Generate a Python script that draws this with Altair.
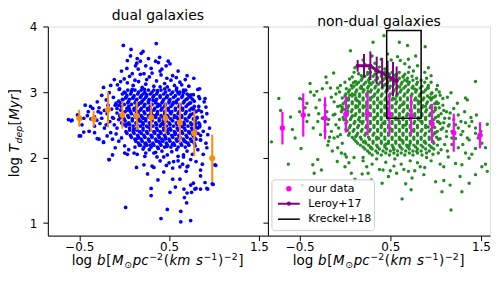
import altair as alt
import pandas as pd

# ---------------- data ----------------
dual_bin_x = [-0.50, -0.34, -0.18, -0.02, 0.14, 0.30, 0.46, 0.62, 0.78, 0.98]
dual_bin_y = [2.60, 2.59, 2.73, 2.65, 2.64, 2.61, 2.60, 2.53, 2.37, 1.99]
dual_bin_err = [0.13, 0.12, 0.27, 0.21, 0.22, 0.22, 0.24, 0.31, 0.35, 0.36]

nondual_bin_x = [-0.69, -0.46, -0.22, 0.01, 0.25, 0.49, 0.73, 0.96, 1.20, 1.49]
nondual_bin_y = [2.45, 2.65, 2.60, 2.66, 2.67, 2.66, 2.64, 2.52, 2.38, 2.34]
nondual_bin_err = [0.25, 0.33, 0.32, 0.28, 0.33, 0.32, 0.29, 0.30, 0.29, 0.20]

leroy_x = [0.14, 0.21, 0.28, 0.35, 0.41, 0.47, 0.53, 0.57]
leroy_y = [3.40, 3.40, 3.40, 3.33, 3.29, 3.24, 3.20, 3.17]
leroy_err = [0.09, 0.18, 0.22, 0.21, 0.23, 0.24, 0.26, 0.22]

kreckel_x = [0.46, 0.84]
kreckel_y = [2.60, 3.94]

dual_pts = [
    (-0.01, 3.71), (0.076, 3.65), (0.21, 3.62), (0.19, 3.59), (0.035, 3.48), (0.145, 3.51),
    (0.27, 3.51), (0.35, 3.47), (0.126, 3.40), (-0.03, 3.32), (0.09, 3.28), (0.156, 3.35),
    (0.22, 3.28), (0.31, 3.29), (-0.11, 3.19), (-0.23, 3.07), (-0.075, 3.11), (0.035, 3.14),
    (-0.166, 2.99), (-0.056, 3.04), (-0.434, 2.80), (-0.375, 2.78), (-0.28, 2.76), (-0.29, 2.70),
    (-0.41, 2.64), (-0.58, 2.57), (-0.37, 2.59), (-0.305, 2.57), (-0.19, 2.67), (-0.13, 2.61),
    (-0.33, 2.48), (-0.09, 2.83), (0.016, 2.91), (0.09, 3.04), (0.16, 3.16), (0.25, 3.19),
    (0.33, 3.09), (-0.59, 2.56), (-0.50, 2.33), (-0.39, 2.40), (-0.28, 2.28), (-0.17, 1.97),
    (-0.23, 2.24), (0.357, 3.74), (0.394, 3.53), (0.38, 3.45), (0.49, 3.47), (0.51, 3.43),
    (0.467, 3.40), (0.42, 3.35), (0.54, 3.25), (0.475, 3.21), (0.70, 3.25), (0.775, 3.21),
    (0.62, 3.15), (0.72, 3.09), (0.84, 3.05), (0.77, 2.96), (0.83, 2.93), (0.90, 2.90),
    (0.91, 2.77), (0.83, 2.78), (0.73, 2.83), (0.84, 2.48), (0.80, 2.46), (0.66, 2.99),
    (0.585, 3.06), (0.84, 2.90), (0.82, 3.04), (1.01, 1.89), (0.99, 1.59), (0.84, 2.47),
    (0.85, 2.27), (0.92, 1.53), (0.786, 1.52), (0.70, 1.46), (0.74, 1.58), (0.85, 1.81),
    (0.70, 1.86), (0.66, 2.01), (-0.485, 2.33), (-0.45, 2.39), (-0.33, 2.38), (-0.30, 2.29),
    (-0.23, 2.23), (-0.13, 2.28), (-0.13, 2.04), (-0.166, 1.97), (0.005, 2.18), (0.005, 2.07),
    (0.035, 2.05), (0.11, 2.07), (0.137, 1.85), (0.22, 1.89), (0.26, 1.75), (0.31, 1.87),
    (0.33, 1.85), (0.376, 1.66), (0.30, 1.53), (0.30, 1.42), (0.016, 1.24), (0.41, 1.07),
    (0.48, 1.21), (0.63, 1.18), (0.63, 1.02), (0.74, 1.04), (0.44, 1.78), (0.51, 1.47),
    (0.54, 1.67), (0.57, 1.55), (0.62, 1.67), (0.665, 1.52), (0.67, 1.39), (0.695, 1.31),
    (0.75, 1.47), (0.77, 1.61), (0.80, 1.53), (0.85, 1.72), (0.85, 1.52), (0.90, 1.62),
    (0.93, 1.52), (0.98, 1.60), (1.02, 1.88), (0.91, 2.22), (0.80, 1.94), (0.76, 2.05),
    (0.69, 1.79), (0.71, 1.87), (0.62, 1.86), (0.54, 1.84), (0.55, 1.94), (0.50, 1.92),
    (0.44, 2.01), (0.365, 2.01), (0.33, 2.07), (0.24, 2.07), (0.21, 2.13), (0.145, 2.05),
    (0.18, 2.19), (0.29, 2.19), (0.38, 2.14), (0.475, 2.17), (0.585, 2.12), (0.66, 2.04),
    (0.82, 2.12), (0.85, 2.27), (-0.25, 2.95), (-0.20, 2.88), (-0.12, 2.92), (-0.15, 3.10),
    (-0.30, 2.85), (-0.05, 3.05), (-0.40, 2.70), (-0.22, 2.72), (-0.10, 2.80), (-0.12, 2.60),
    (-0.20, 2.50), (-0.08, 2.45), (-0.15, 2.38), (-0.25, 2.60), (-0.06, 2.25), (-0.10, 2.15),
    (0.00, 3.20), (0.06, 3.24), (0.12, 3.18), (0.18, 3.27), (0.24, 3.12), (0.28, 3.23),
    (0.36, 3.17), (0.41, 3.26), (0.45, 3.13), (0.52, 3.18), (0.58, 3.22), (0.64, 3.11),
    (0.68, 3.19), (0.40, 3.08), (0.10, 3.10), (0.20, 3.07), (0.48, 3.08), (0.56, 3.10),
    (-0.04, 3.16), (0.03, 3.36), (0.14, 3.44), (0.24, 3.40), (0.30, 3.36), (0.40, 3.32),
    (0.60, 3.32), (0.07, 3.55), (0.18, 3.47), (-0.18, 2.80), (-0.14, 2.74), (-0.26, 2.68),
    (-0.33, 2.62), (-0.08, 2.68), (-0.16, 2.55), (-0.22, 2.45), (-0.11, 2.50), (-0.27, 2.52),
    (-0.06, 2.58), (-0.19, 2.33), (-0.09, 2.36), (-0.03, 2.30), (-0.35, 2.75), (-0.45, 2.60),
    (-0.52, 2.65), (-0.47, 2.50), (-0.62, 2.58), (0.05, 2.12), (0.12, 2.16), (0.23, 2.02),
    (0.28, 2.12), (0.35, 2.08), (0.42, 2.10), (0.48, 2.04), (0.53, 2.09), (0.60, 2.02),
    (0.70, 2.10), (0.74, 1.97), (0.79, 2.18), (0.88, 2.05), (0.92, 2.15), (0.87, 1.90),
    (0.60, 1.95), (0.40, 1.95), (0.47, 1.88), (0.65, 1.90), (0.87, 2.62), (0.90, 2.55),
    (0.88, 2.40), (0.93, 2.35), (0.86, 2.70), (0.92, 2.67), (0.95, 2.45), (0.89, 2.85),
    # irregular points inside the dense core
    (0.015, 2.985), (0.095, 2.905), (0.172, 2.832), (0.248, 2.962), (0.322, 2.874),
    (0.398, 2.795), (0.473, 2.918), (0.547, 2.842), (0.623, 2.768), (0.703, 2.897),
    (0.058, 2.742), (0.137, 2.681), (0.214, 2.597), (0.288, 2.733), (0.362, 2.655),
    (0.437, 2.571), (0.512, 2.694), (0.585, 2.618), (0.663, 2.537), (0.742, 2.658),
    (0.028, 2.512), (0.106, 2.433), (0.185, 2.551), (0.263, 2.468), (0.338, 2.389),
    (0.413, 2.507), (0.491, 2.428), (0.566, 2.352), (0.644, 2.471), (0.718, 2.392),
    (0.152, 2.297), (0.231, 2.214), (0.307, 2.328), (0.385, 2.247), (0.459, 2.286),
    (0.537, 2.203), (0.612, 2.315), (0.688, 2.236), (0.765, 2.343), (0.791, 2.518),
    (0.812, 2.604), (0.774, 2.732), (-0.036, 2.652), (-0.062, 2.798), (-0.014, 2.883),
    (0.082, 3.015), (0.226, 3.042), (0.371, 3.021), (0.452, 3.047), (0.598, 2.993),
    (0.684, 3.028), (0.741, 2.957),
]

dual_core = {
    3.03: [0.04, 0.12, 0.19, 0.27, 0.33, 0.41, 0.50, 0.58, 0.66],
    3.00: [0.00, 0.08, 0.16, 0.23, 0.31, 0.37, 0.46, 0.54, 0.62],
    2.97: [-0.02, 0.07, 0.15, 0.21, 0.29, 0.36, 0.44, 0.52, 0.61, 0.70],
    2.945: [0.03, 0.11, 0.19, 0.25, 0.33, 0.40, 0.48, 0.57, 0.65, 0.72],
    2.92: [0.02, 0.10, 0.18, 0.24, 0.32, 0.40, 0.47, 0.55, 0.64, 0.74],
    2.89: [-0.02, 0.06, 0.14, 0.22, 0.28, 0.36, 0.44, 0.51, 0.60, 0.69, 0.76],
    2.86: [-0.06, 0.05, 0.13, 0.20, 0.27, 0.35, 0.43, 0.50, 0.58, 0.67, 0.78],
    2.835: [-0.04, 0.04, 0.12, 0.19, 0.27, 0.35, 0.42, 0.50, 0.58, 0.66, 0.74],
    2.81: [0.00, 0.08, 0.16, 0.23, 0.31, 0.38, 0.46, 0.54, 0.62, 0.71],
    2.78: [-0.03, 0.05, 0.14, 0.22, 0.29, 0.37, 0.45, 0.52, 0.61, 0.69, 0.78],
    2.75: [-0.08, 0.03, 0.11, 0.19, 0.26, 0.34, 0.42, 0.49, 0.57, 0.65, 0.75],
    2.725: [-0.04, 0.04, 0.11, 0.18, 0.26, 0.33, 0.41, 0.49, 0.57, 0.65, 0.73, 0.83],
    2.70: [0.01, 0.07, 0.15, 0.22, 0.30, 0.37, 0.45, 0.53, 0.61, 0.69, 0.80],
    2.67: [-0.01, 0.08, 0.16, 0.23, 0.30, 0.37, 0.45, 0.52, 0.60, 0.68, 0.77],
    2.64: [-0.05, 0.04, 0.12, 0.19, 0.27, 0.33, 0.41, 0.48, 0.56, 0.64, 0.73],
    2.615: [-0.04, 0.05, 0.13, 0.20, 0.28, 0.35, 0.43, 0.49, 0.56, 0.64, 0.72, 0.81],
    2.59: [0.00, 0.09, 0.16, 0.24, 0.31, 0.39, 0.46, 0.52, 0.60, 0.68, 0.77],
    2.56: [0.01, 0.09, 0.17, 0.24, 0.31, 0.39, 0.47, 0.54, 0.62, 0.70, 0.79],
    2.53: [-0.03, 0.05, 0.13, 0.21, 0.28, 0.35, 0.43, 0.50, 0.58, 0.66, 0.74, 0.83],
    2.505: [-0.01, 0.06, 0.14, 0.21, 0.29, 0.36, 0.44, 0.51, 0.59, 0.67, 0.75, 0.84],
    2.48: [0.02, 0.10, 0.18, 0.25, 0.32, 0.40, 0.47, 0.55, 0.63, 0.71, 0.79],
    2.45: [0.06, 0.14, 0.21, 0.29, 0.36, 0.44, 0.51, 0.59, 0.67, 0.75, 0.82],
    2.42: [0.06, 0.14, 0.21, 0.29, 0.37, 0.44, 0.52, 0.60, 0.68, 0.76],
    2.395: [0.02, 0.10, 0.17, 0.25, 0.33, 0.40, 0.48, 0.56, 0.64, 0.72, 0.79],
    2.37: [0.03, 0.11, 0.19, 0.26, 0.34, 0.41, 0.49, 0.57, 0.65, 0.73, 0.82],
    2.34: [0.07, 0.15, 0.22, 0.30, 0.38, 0.45, 0.53, 0.61, 0.69, 0.77, 0.85],
    2.31: [0.08, 0.16, 0.23, 0.31, 0.39, 0.46, 0.54, 0.62, 0.70, 0.78],
    2.28: [0.12, 0.19, 0.27, 0.35, 0.42, 0.50, 0.58, 0.66, 0.74, 0.80],
    2.25: [0.13, 0.20, 0.28, 0.36, 0.43, 0.51, 0.59, 0.67, 0.75],
    2.22: [0.16, 0.24, 0.32, 0.40, 0.47, 0.55, 0.63, 0.71, 0.78],
    2.19: [0.17, 0.25, 0.33, 0.41, 0.48, 0.56, 0.64, 0.72],
    2.16: [0.22, 0.30, 0.37, 0.45, 0.52, 0.60, 0.68],
}

nondual_pts = [
    (-0.73, 2.90), (-0.71, 2.72), (-0.50, 2.90), (-0.42, 2.83), (-0.44, 2.76), (-0.385, 3.13),
    (-0.34, 2.95), (-0.31, 3.01), (-0.32, 2.76), (-0.29, 2.67), (-0.21, 3.23), (-0.20, 3.14),
    (-0.16, 3.06), (-0.125, 3.29), (-0.08, 3.06), (-0.10, 2.97), (0.015, 3.05), (0.06, 3.63),
    (0.03, 2.88), (-0.03, 2.77), (0.11, 2.96), (0.115, 3.16), (0.11, 3.37), (0.08, 3.23),
    (0.20, 3.49), (0.31, 3.76), (0.18, 3.07), (0.16, 2.94), (-0.11, 2.66), (-0.06, 2.58),
    (-0.19, 2.51), (-0.58, 2.43), (0.255, 3.01), (0.34, 3.32), (0.03, 2.71), (0.14, 2.78),
    (0.43, 3.86), (0.60, 3.76), (0.69, 3.71), (0.885, 3.69), (0.58, 3.54), (0.51, 3.49),
    (0.61, 3.48), (0.66, 3.43), (0.71, 3.38), (0.755, 3.32), (0.92, 3.37), (0.95, 3.25),
    (0.90, 3.21), (1.44, 3.16), (0.91, 3.06), (1.01, 3.04), (0.96, 2.99), (1.05, 2.95),
    (1.17, 2.99), (1.13, 2.92), (1.33, 2.91), (1.35, 2.88), (1.24, 2.83), (1.03, 2.83),
    (0.996, 2.76), (1.09, 2.72), (1.16, 2.68), (1.20, 2.58), (1.33, 2.53), (1.39, 2.61),
    (1.37, 2.48), (1.57, 2.51), (1.44, 2.45), (1.14, 2.48), (1.09, 2.53), (1.03, 2.63),
    (-0.81, 2.24), (-0.625, 1.90), (-0.47, 1.58), (-0.485, 2.14), (-0.30, 1.97), (-0.34, 1.76),
    (-0.26, 1.81), (-0.355, 1.89), (-0.19, 2.19), (-0.17, 2.31), (-0.085, 1.94), (-0.08, 2.32),
    (-0.04, 2.07), (0.00, 1.86), (0.015, 2.01), (0.07, 1.76), (0.11, 1.67), (0.044, 1.92),
    (0.19, 1.75), (0.24, 1.86), (0.255, 1.76), (0.29, 1.66), (0.41, 1.61), (0.42, 1.81),
    (0.48, 1.71), (0.57, 1.76), (0.54, 1.87), (0.63, 1.37), (0.67, 1.60), (0.74, 1.69),
    (0.77, 1.80), (0.70, 1.79), (0.87, 1.74), (0.83, 1.86), (1.00, 1.63), (1.09, 1.65),
    (1.07, 1.48), (1.16, 1.58), (1.17, 1.20), (1.27, 1.71), (1.29, 1.48), (1.37, 1.61),
    (1.44, 1.74), (1.51, 1.86), (1.57, 1.79), (1.55, 1.90), (1.37, 1.99), (1.29, 1.89),
    (1.22, 1.91), (1.14, 2.01), (1.09, 1.86), (1.03, 2.07), (1.33, 2.07), (1.44, 2.14),
    (1.22, 2.29), (1.37, 2.27), (1.51, 2.22), (1.44, 2.37), (0.73, 1.51), (-0.47, 2.89),
    (-0.12, 2.85), (-0.20, 2.70), (-0.25, 2.60), (-0.10, 2.50), (-0.15, 2.40), (-0.05, 2.35),
    (-0.30, 2.55), (-0.40, 2.65), (-0.18, 2.25), (-0.08, 2.15), (1.12, 2.40), (1.18, 2.30),
    (1.25, 2.45), (1.10, 2.20), (1.15, 2.60), (1.28, 2.35), (1.08, 2.90), (1.20, 2.75),
    (1.32, 2.70), (0.95, 3.15), (1.02, 3.10), (0.10, 3.30), (0.18, 3.25), (0.05, 3.20),
    (-0.05, 3.10), (0.00, 2.05), (0.10, 2.00), (0.20, 1.95), (0.95, 1.95), (1.05, 1.90),
    (0.90, 2.00), (0.22, 3.42), (0.27, 3.36), (0.33, 3.44), (0.38, 3.38), (0.44, 3.35),
    (0.25, 3.30), (0.15, 3.28), (-0.28, 2.88), (-0.22, 2.80), (-0.15, 2.92), (-0.08, 2.78),
    (-0.13, 2.65), (-0.18, 2.58), (-0.07, 2.45), (-0.22, 2.40), (-0.12, 2.30), (-0.27, 2.35),
    (-0.03, 2.22), (-0.14, 2.10), (-0.35, 2.45), (-0.42, 2.55), (-0.50, 2.70), (-0.55, 2.30),
    (-0.60, 2.62), (-0.38, 3.00), (-0.25, 3.05), (-0.06, 3.00), (0.00, 3.15), (0.07, 3.10),
    (1.08, 2.80), (1.12, 2.70), (1.10, 2.60), (1.15, 2.50), (1.12, 2.32), (1.08, 2.45),
    (1.18, 2.40), (1.22, 2.50), (1.25, 2.65), (1.28, 2.55), (1.30, 2.40), (1.35, 2.30),
    (1.40, 2.55), (1.45, 2.65), (1.50, 2.40), (1.18, 2.20), (1.25, 2.15), (1.06, 2.12),
    (1.13, 2.10), (1.30, 2.20), (1.40, 2.05), (1.47, 2.30), (1.55, 2.15), (0.20, 2.00),
    (0.35, 1.98), (0.45, 1.93), (0.55, 1.98), (0.62, 1.90), (0.72, 1.95), (0.80, 1.92),
    (0.88, 1.85), (0.97, 2.05), (0.30, 1.90), (0.38, 1.82), (0.65, 1.82), (0.50, 1.80),
    (0.92, 3.10), (0.98, 2.92), (1.04, 3.00), (0.88, 3.30), (0.80, 3.40), (0.30, 3.55),
    (0.40, 3.50), (0.47, 3.58), (0.70, 3.50), (0.78, 3.55),
    # irregular points inside the dense core
    (0.053, 2.953), (0.137, 2.867), (0.221, 2.781), (0.302, 2.924), (0.386, 2.838),
    (0.467, 2.752), (0.553, 2.895), (0.634, 2.809), (0.718, 2.723), (0.803, 2.866),
    (0.887, 2.781), (0.962, 2.694), (0.083, 2.638), (0.168, 2.552), (0.251, 2.467),
    (0.334, 2.611), (0.418, 2.525), (0.502, 2.439), (0.584, 2.582), (0.668, 2.496),
    (0.752, 2.411), (0.836, 2.553), (0.918, 2.468), (0.997, 2.382), (0.118, 2.323),
    (0.203, 2.237), (0.286, 2.151), (0.371, 2.296), (0.455, 2.209), (0.538, 2.124),
    (0.622, 2.267), (0.707, 2.181), (0.791, 2.095), (0.874, 2.238), (0.957, 2.152),
    (0.187, 3.052), (0.272, 3.137), (0.354, 3.221), (0.438, 3.106), (0.521, 3.191),
    (0.603, 3.077), (0.686, 3.163), (0.768, 3.048), (0.851, 2.998), (0.934, 2.912),
    (1.018, 2.826), (1.033, 2.542), (1.049, 2.287), (0.028, 2.418), (-0.012, 2.577),
    (-0.031, 2.736), (0.014, 2.871), (0.093, 3.142), (0.473, 3.287), (0.558, 3.262),
    (0.642, 3.228),
]

nondual_core = {
    3.30: [0.28, 0.36, 0.44, 0.52, 0.60, 0.70],
    3.27: [0.25, 0.33, 0.41, 0.49, 0.57, 0.66],
    3.24: [0.22, 0.31, 0.40, 0.48, 0.56, 0.64, 0.74],
    3.21: [0.19, 0.27, 0.36, 0.44, 0.52, 0.60, 0.69, 0.79],
    3.18: [0.18, 0.26, 0.34, 0.42, 0.50, 0.58, 0.66, 0.75, 0.84],
    3.15: [0.15, 0.23, 0.31, 0.39, 0.47, 0.55, 0.63, 0.71, 0.80, 0.88],
    3.12: [0.13, 0.21, 0.29, 0.37, 0.45, 0.54, 0.62, 0.70, 0.79],
    3.09: [0.10, 0.18, 0.26, 0.34, 0.42, 0.50, 0.58, 0.67, 0.75, 0.85],
    3.06: [0.08, 0.17, 0.25, 0.33, 0.41, 0.49, 0.57, 0.65, 0.74, 0.83, 0.92],
    3.03: [0.05, 0.13, 0.21, 0.29, 0.37, 0.46, 0.54, 0.62, 0.70, 0.79, 0.89],
    3.00: [0.04, 0.12, 0.20, 0.28, 0.36, 0.45, 0.53, 0.61, 0.69, 0.78, 0.87],
    2.97: [0.01, 0.08, 0.16, 0.24, 0.33, 0.41, 0.50, 0.58, 0.66, 0.74, 0.83, 0.95],
    2.94: [0.00, 0.08, 0.16, 0.24, 0.32, 0.40, 0.49, 0.57, 0.65, 0.73, 0.82, 0.91, 1.00],
    2.91: [-0.03, 0.04, 0.12, 0.20, 0.28, 0.36, 0.45, 0.53, 0.61, 0.69, 0.78, 0.87, 0.96],
    2.88: [0.04, 0.12, 0.20, 0.28, 0.36, 0.44, 0.52, 0.61, 0.69, 0.77, 0.86, 0.95],
    2.85: [0.00, 0.08, 0.16, 0.24, 0.32, 0.40, 0.48, 0.57, 0.65, 0.73, 0.82, 0.91, 1.01],
    2.82: [-0.02, 0.08, 0.16, 0.24, 0.32, 0.40, 0.48, 0.56, 0.65, 0.73, 0.81, 0.90, 0.99],
    2.79: [-0.05, 0.04, 0.12, 0.20, 0.28, 0.36, 0.44, 0.52, 0.61, 0.69, 0.77, 0.86, 0.95],
    2.76: [0.03, 0.12, 0.20, 0.28, 0.36, 0.44, 0.52, 0.60, 0.69, 0.77, 0.85, 0.94, 1.04],
    2.73: [-0.01, 0.08, 0.16, 0.24, 0.32, 0.40, 0.48, 0.56, 0.65, 0.73, 0.81, 0.90, 1.00],
    2.70: [-0.04, 0.07, 0.16, 0.24, 0.32, 0.40, 0.48, 0.56, 0.64, 0.73, 0.81, 0.89, 0.98],
    2.67: [0.03, 0.12, 0.20, 0.28, 0.36, 0.44, 0.52, 0.60, 0.69, 0.77, 0.85, 0.94, 1.06],
    2.64: [0.02, 0.11, 0.20, 0.28, 0.36, 0.44, 0.52, 0.60, 0.68, 0.77, 0.85, 0.93, 1.03],
    2.61: [-0.02, 0.07, 0.16, 0.24, 0.32, 0.40, 0.48, 0.56, 0.64, 0.73, 0.81, 0.89, 1.00],
    2.58: [0.06, 0.15, 0.24, 0.32, 0.40, 0.48, 0.56, 0.64, 0.72, 0.81, 0.89, 0.98],
    2.55: [0.02, 0.11, 0.20, 0.28, 0.36, 0.44, 0.52, 0.60, 0.68, 0.77, 0.85, 0.94, 1.02],
    2.52: [0.01, 0.10, 0.19, 0.28, 0.36, 0.44, 0.52, 0.60, 0.68, 0.76, 0.85, 0.94, 1.05],
    2.49: [0.06, 0.15, 0.24, 0.32, 0.40, 0.48, 0.56, 0.64, 0.72, 0.80, 0.89, 0.97],
    2.46: [0.05, 0.14, 0.23, 0.32, 0.40, 0.48, 0.56, 0.64, 0.72, 0.80, 0.89, 0.99],
    2.43: [0.01, 0.10, 0.19, 0.28, 0.36, 0.44, 0.52, 0.60, 0.68, 0.76, 0.85, 0.95, 1.06],
    2.40: [0.09, 0.18, 0.27, 0.36, 0.44, 0.52, 0.60, 0.68, 0.76, 0.84, 0.93, 1.02],
    2.37: [0.05, 0.14, 0.23, 0.32, 0.40, 0.48, 0.56, 0.64, 0.72, 0.80, 0.89, 0.99],
    2.34: [0.04, 0.13, 0.22, 0.31, 0.40, 0.48, 0.56, 0.64, 0.72, 0.80, 0.88, 0.97],
    2.31: [0.08, 0.17, 0.26, 0.35, 0.44, 0.52, 0.60, 0.68, 0.76, 0.84, 0.93, 1.01],
    2.28: [0.10, 0.18, 0.27, 0.35, 0.44, 0.52, 0.60, 0.68, 0.76, 0.84, 0.93, 1.03],
    2.25: [0.12, 0.22, 0.31, 0.40, 0.48, 0.56, 0.64, 0.72, 0.80, 0.88, 0.97],
    2.22: [0.14, 0.23, 0.31, 0.40, 0.48, 0.56, 0.64, 0.72, 0.80, 0.89, 0.98],
    2.19: [0.17, 0.26, 0.35, 0.44, 0.52, 0.60, 0.68, 0.76, 0.84, 0.93, 1.02],
    2.16: [0.20, 0.28, 0.36, 0.44, 0.53, 0.61, 0.69, 0.78, 0.86, 0.95],
    2.13: [0.22, 0.30, 0.38, 0.46, 0.54, 0.63, 0.71, 0.80, 0.89, 0.98],
    2.10: [0.25, 0.34, 0.42, 0.50, 0.58, 0.67, 0.75, 0.84, 0.93],
    2.07: [0.27, 0.36, 0.45, 0.54, 0.62, 0.71, 0.80, 0.90],
    2.04: [0.30, 0.40, 0.49, 0.58, 0.66, 0.75, 0.85],
}

x_ticks = [-0.5, 0.5, 1.5]
y_ticks = [1, 2, 3, 4]
panel_titles = ["dual galaxies", "non-dual galaxies"]
legend_labels = ["our data", "Leroy+17", "Kreckel+18"]

# ---------------- tables ----------------
def scatter_df(pts, core):
    rows = [{"x": a, "y": b} for a, b in pts]
    for yv, xs in core.items():
        rows += [{"x": a, "y": yv} for a in xs]
    return pd.DataFrame(rows)

def bins_df(xs, ys, es):
    return pd.DataFrame({"x": xs, "y": ys, "lo": [a - e for a, e in zip(ys, es)],
                         "hi": [a + e for a, e in zip(ys, es)]})

dual_df = scatter_df(dual_pts, dual_core)
nondual_df = scatter_df(nondual_pts, nondual_core)
dual_bins = bins_df(dual_bin_x, dual_bin_y, dual_bin_err)
nondual_bins = bins_df(nondual_bin_x, nondual_bin_y, nondual_bin_err)
leroy_df = bins_df(leroy_x, leroy_y, leroy_err)
kreckel_df = pd.DataFrame({"x": [kreckel_x[0]], "x2": [kreckel_x[1]],
                           "y": [kreckel_y[0]], "y2": [kreckel_y[1]]})

# ---------------- styling ----------------
FONT = "DejaVu Sans"
W_L, W_R, H = 221, 223, 210
xscale = alt.Scale(domain=[-0.85, 1.6], nice=False, zero=False)
yscale = alt.Scale(domain=[0.81, 4.0], nice=False, zero=False)
common_axis = dict(grid=False, tickSize=5, domainColor="black", tickColor="black",
                   labelColor="black", labelFont=FONT, labelFontSize=12, title=None,
                   labelFlush=False, labelOverlap=False)
xaxis = alt.Axis(values=x_ticks, format=".1f", labelPadding=1, **common_axis)
yaxis_l = alt.Axis(values=y_ticks, format="d", labelPadding=6, **common_axis)
yaxis_r = alt.Axis(values=y_ticks, labels=False, **common_axis)


def X(f, **kw):
    return alt.X(f, type="quantitative", scale=xscale, axis=xaxis, **kw)


def Y(f, yaxis, **kw):
    return alt.Y(f, type="quantitative", scale=yscale, axis=yaxis, **kw)


one = pd.DataFrame({"a": [0]})


def txt(s, x, y, size=13.5, style="normal", angle=0, align="left", baseline="alphabetic", dy=0):
    return alt.Chart(one).mark_text(text=s, font=FONT, fontSize=size, fontStyle=style,
                                    angle=angle, align=align, baseline=baseline, dy=dy,
                                    color="black").encode(x=alt.value(x), y=alt.value(y))


ADV = {'l': .278, 'o': .612, 'g': .635, ' ': .318, 'b': .635, '[': .390, ']': .390,
       'M': .863, '⊙': .838, 'p': .635, 'c': .550, '−': .838, '2': .636, '1': .636,
       '(': .390, ')': .390, 'k': .579, 'm': .974, 's': .521, 'T': .611, 'd': .635,
       'e': .615, 'y': .592, 'r': .411}


def adv(s, size):
    return sum(ADV[c] for c in s) * size


BASE = 13.5
xlab_parts = [("log ", 1, "normal", 0), ("b", 1, "italic", 0), ("[", 1, "normal", 0),
              ("M", 1, "italic", 0), ("⊙", .7, "normal", 3), ("pc", 1, "italic", 0),
              ("−2", .7, "normal", -5), ("(", 1, "normal", 0), ("km", 1, "italic", 0),
              (" ", 1, "normal", 0), ("s", 1, "italic", 0), ("−1", .7, "normal", -5),
              (")", 1, "normal", 0), ("−2", .7, "normal", -5), ("]", 1, "normal", 0)]


def xlabel_layers(width):
    total = sum(adv(t, BASE * k) + 0.6 for t, k, _, _ in xlab_parts)
    cur = width / 2 - total / 2
    out = []
    for t, k, st, dy in xlab_parts:
        if t.strip():
            out.append(txt(t, cur, H + 29.5, size=BASE * k, style=st, dy=dy))
        cur += adv(t, BASE * k) + 0.6
    return out


ylab_parts = [("log ", 1, "normal", 0), ("T", 1, "italic", 0), ("dep", .7, "italic", 3),
              ("[", 1, "normal", 0), ("Myr", 1, "italic", 0), ("]", 1, "normal", 0)]


def ylabel_layers():
    cur = 151.5
    out = []
    for t, k, st, dx in ylab_parts:
        out.append(txt(t.strip(), -28.5 + dx, cur, size=BASE * k, style=st, angle=270))
        cur -= adv(t, BASE * k) + 0.4
    return out


def title(t):
    return alt.TitleParams(t, font=FONT, fontSize=14, fontWeight="normal", color="black",
                           offset=-3, frame="group", anchor="middle")


left_layers = [
    alt.Chart(dual_df).mark_circle(size=14, color="blue", opacity=1).encode(
        x=X("x"), y=Y("y", yaxis_l)),
    alt.Chart(dual_bins).mark_rule(color="darkorange", strokeWidth=2).encode(
        x=X("x"), y=Y("lo", yaxis_l), y2="hi"),
    alt.Chart(dual_bins).mark_circle(size=36, color="darkorange", opacity=1).encode(
        x=X("x"), y=Y("y", yaxis_l)),
] + xlabel_layers(W_L) + ylabel_layers()

left = alt.layer(*left_layers).properties(width=W_L, height=H, title=title(panel_titles[0]))

right_layers = [
    alt.Chart(nondual_df).mark_circle(size=12, color="forestgreen", opacity=1).encode(
        x=X("x"), y=Y("y", yaxis_r)),
    alt.Chart(nondual_bins).mark_rule(color="magenta", strokeWidth=2.2).encode(
        x=X("x"), y=Y("lo", yaxis_r), y2="hi"),
    alt.Chart(nondual_bins).mark_circle(size=30, color="magenta", opacity=1).encode(
        x=X("x"), y=Y("y", yaxis_r)),
    alt.Chart(leroy_df).mark_rule(color="purple", strokeWidth=2).encode(
        x=X("x"), y=Y("lo", yaxis_r), y2="hi"),
    alt.Chart(leroy_df).mark_line(color="purple", strokeWidth=3).encode(
        x=X("x"), y=Y("y", yaxis_r)),
    alt.Chart(leroy_df).mark_circle(size=18, color="purple", opacity=1).encode(
        x=X("x"), y=Y("y", yaxis_r)),
    alt.Chart(kreckel_df).mark_rect(filled=False, stroke="black", strokeWidth=1.5).encode(
        x=X("x"), x2="x2", y=Y("y", yaxis_r), y2="y2"),
    alt.Chart(one).mark_rect(fill="white", fillOpacity=0.8, stroke="#cccccc", strokeWidth=1,
                             cornerRadius=3).encode(
        x=alt.value(4), x2=alt.value(107), y=alt.value(154), y2=alt.value(205)),
    alt.Chart(one).mark_circle(size=30, color="magenta", opacity=1).encode(
        x=alt.value(21), y=alt.value(163)),
    alt.Chart(one).mark_rule(color="purple", strokeWidth=2).encode(
        x=alt.value(10), x2=alt.value(32), y=alt.value(178)),
    alt.Chart(one).mark_circle(size=18, color="purple", opacity=1).encode(
        x=alt.value(21), y=alt.value(178)),
    alt.Chart(one).mark_rule(color="black", strokeWidth=1.5).encode(
        x=alt.value(10), x2=alt.value(32), y=alt.value(193.5)),
    txt(legend_labels[0], 40.5, 163, size=11, baseline="middle"),
    txt(legend_labels[1], 40.5, 178, size=11, baseline="middle"),
    txt(legend_labels[2], 40.5, 193.5, size=11, baseline="middle"),
] + xlabel_layers(W_R)

right = alt.layer(*right_layers).properties(width=W_R, height=H, title=title(panel_titles[1]))

chart = alt.hconcat(left, right, spacing=0, bounds="flush",
                    padding={"left": 0, "top": 0, "right": 0, "bottom": 0}).configure_view(
    stroke="black", strokeWidth=1).configure(background="white")

chart.save("out.html", embed_options={"renderer": "svg", "actions": False})
